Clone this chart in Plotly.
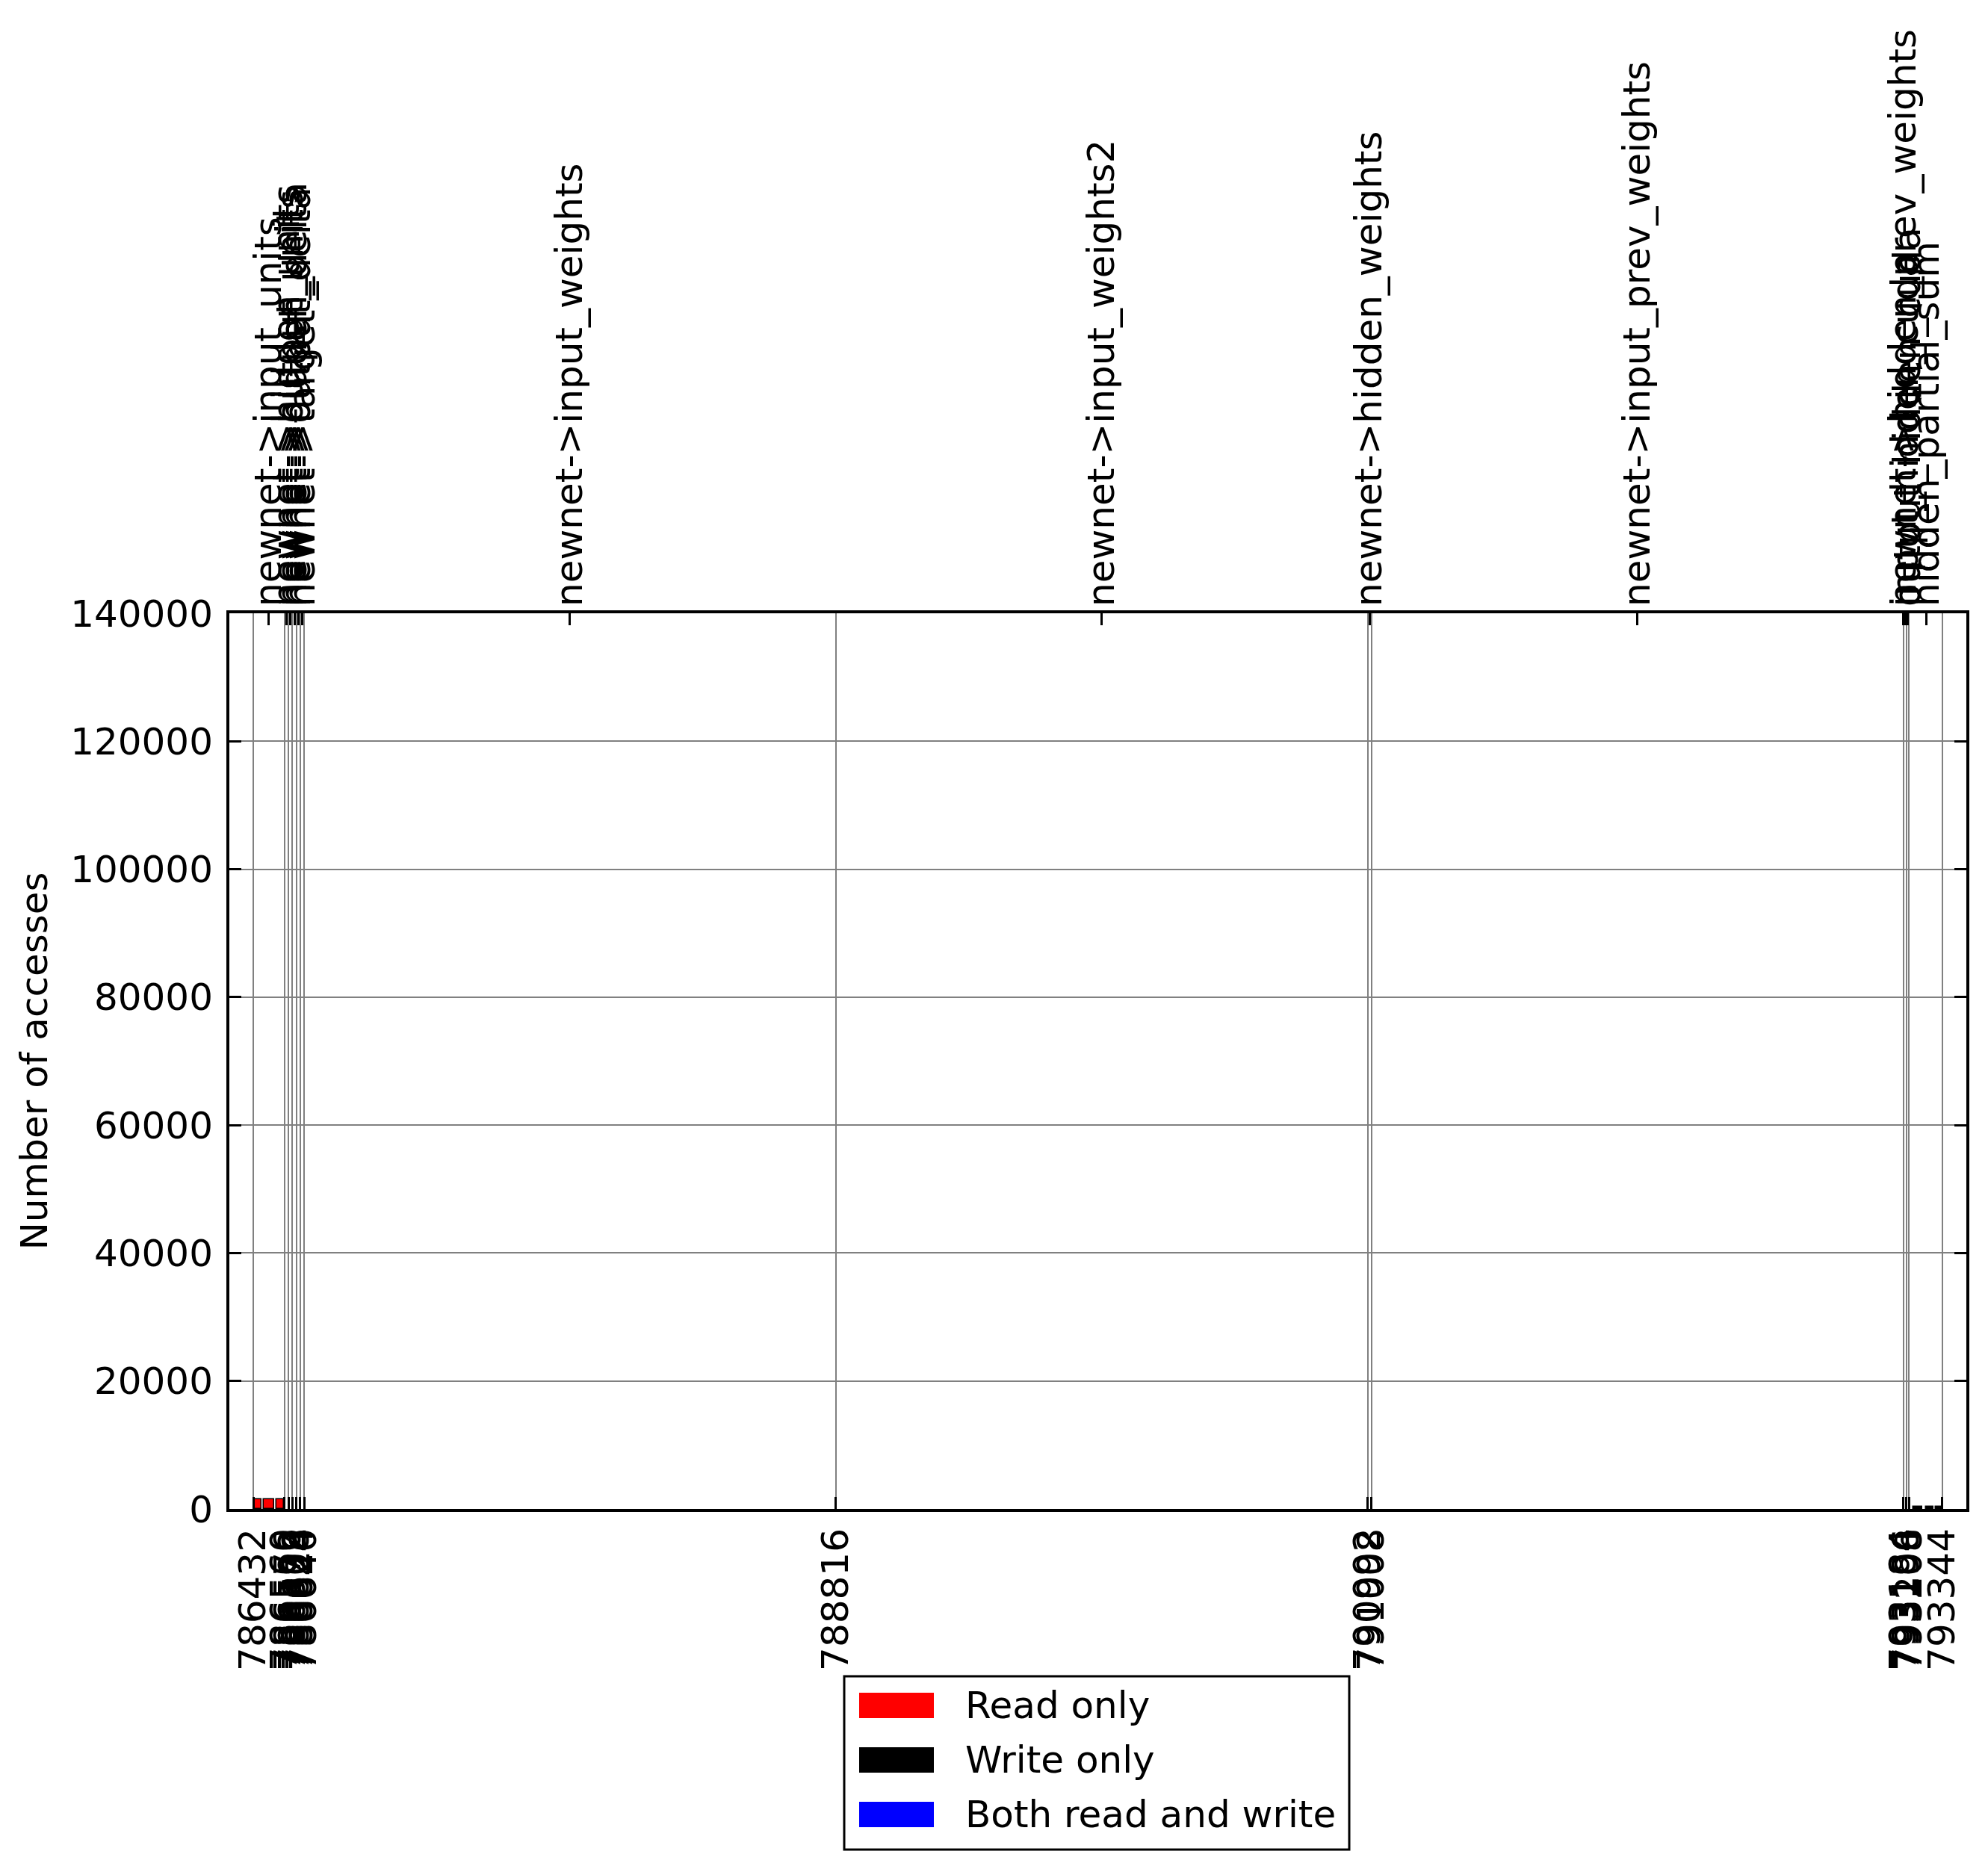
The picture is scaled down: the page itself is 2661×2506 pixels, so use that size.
import plotly.graph_objects as go

# bottom axis: start address of each allocation
addr_ticks = [786432, 786560, 786576, 786592, 786608, 786624, 786640,
              788816, 790992, 791008, 793184, 793196, 793208, 793344]

# top axis: allocation names at their middle
var_pos = [786496, 786568, 786584, 786600, 786616, 786632, 787728,
           789904, 791000, 792096, 793185, 793194, 793203, 793279]
var_names = ["newnet->input_units", "newnet->hidden_units", "newnet->output_units",
             "newnet->hidden_delta", "newnet->output_delta", "newnet->target",
             "newnet->input_weights", "newnet->input_weights2", "newnet->hidden_weights",
             "newnet->input_prev_weights", "newnet->hidden_prev_weights",
             "input_hidden_cuda", "output_hidden_cuda", "hidden_partial_sum"]

# access counts per address block
read_x = [786450, 786496, 786542]
read_w = [31, 43, 30]
read_y = [1500, 1500, 1500]

write_x = [793243, 793292, 793327]
write_w = [37, 30, 21]
write_y = [350, 350, 350]

both_x = []
both_w = []
both_y = []

legend_names = ["Read only", "Write only", "Both read and write"]
legend_colors = ["red", "black", "blue"]

W, H = 2661, 2506
OFF = 8  # body margin of the html page
L, R, T, B = 307, 2632, 821, 2020  # plot area in page pixels
FONT = "DejaVu Sans"
FS = 50


def px(x):
    return (x - L) / (R - L)


def py(y):
    return (B - y) / (B - T)


fig = go.Figure()
for xs, ws, ys, col, name in [(read_x, read_w, read_y, "red", "Read only"),
                              (write_x, write_w, write_y, "black", "Write only"),
                              (both_x, both_w, both_y, "blue", "Both read and write")]:
    fig.add_trace(go.Bar(x=xs, y=ys, width=ws, name=name, showlegend=False,
                         marker=dict(color=col, line=dict(color="black", width=1.5))))

# dummy trace so the top axis gets drawn
fig.add_trace(go.Scatter(x=[var_pos[0]], y=[0], xaxis="x2", mode="markers",
                         marker=dict(opacity=0), showlegend=False, hoverinfo="skip"))

xr = [786334, 793442]
fig.update_layout(
    width=W, height=H,
    margin=dict(l=L - OFF, r=W - (R - OFF), t=T - OFF, b=H - (B - OFF), autoexpand=False),
    plot_bgcolor="white", paper_bgcolor="white",
    font=dict(family=FONT, size=FS, color="black"),
    barmode="overlay", bargap=0,
    xaxis=dict(range=xr, tickmode="array", tickvals=addr_ticks,
               ticktext=[str(v) for v in addr_ticks], tickangle=-90,
               ticks="inside", ticklen=16, tickwidth=2.5, tickcolor="black",
               showgrid=True, gridcolor="#808080", gridwidth=2,
               showline=True, linecolor="black", linewidth=4, mirror=True,
               zeroline=False, ticklabelstandoff=2,
               tickfont=dict(family=FONT, size=FS)),
    xaxis2=dict(range=xr, overlaying="x", side="top", tickmode="array",
                tickvals=var_pos, ticktext=var_names, tickangle=-90,
                ticks="inside", ticklen=16, tickwidth=2.5, tickcolor="black",
                showgrid=False, showline=False, zeroline=False,
                ticklabelstandoff=8, tickfont=dict(family=FONT, size=FS)),
    yaxis=dict(range=[0, 140000], dtick=20000, tickformat="d",
               ticks="inside", ticklen=16, tickwidth=2.5, tickcolor="black",
               showgrid=True, gridcolor="#808080", gridwidth=2,
               showline=True, linecolor="black", linewidth=4, mirror="ticks",
               zeroline=False, ticklabelstandoff=8,
               title=dict(text="Number of accesses", standoff=16,
                          font=dict(family=FONT, size=FS)),
               tickfont=dict(family=FONT, size=FS)),
)

# legend box drawn by hand (matplotlib style wide patches)
shapes = [dict(type="rect", xref="paper", yref="paper",
               x0=px(1130), x1=px(1806), y0=py(2476), y1=py(2244),
               line=dict(color="black", width=3), fillcolor="white", layer="above")]
annotations = []
row_y = [2283, 2356, 2429]
for name, col, yc in zip(legend_names, legend_colors, row_y):
    shapes.append(dict(type="rect", xref="paper", yref="paper",
                       x0=px(1150), x1=px(1250), y0=py(yc + 17), y1=py(yc - 17),
                       line=dict(width=0), fillcolor=col, layer="above"))
    annotations.append(dict(xref="paper", yref="paper", x=px(1290), y=py(yc),
                            text=name, showarrow=False, xanchor="left", yanchor="middle",
                            font=dict(family=FONT, size=FS, color="black")))
fig.update_layout(shapes=shapes, annotations=annotations)

fig.write_html("out.html")
